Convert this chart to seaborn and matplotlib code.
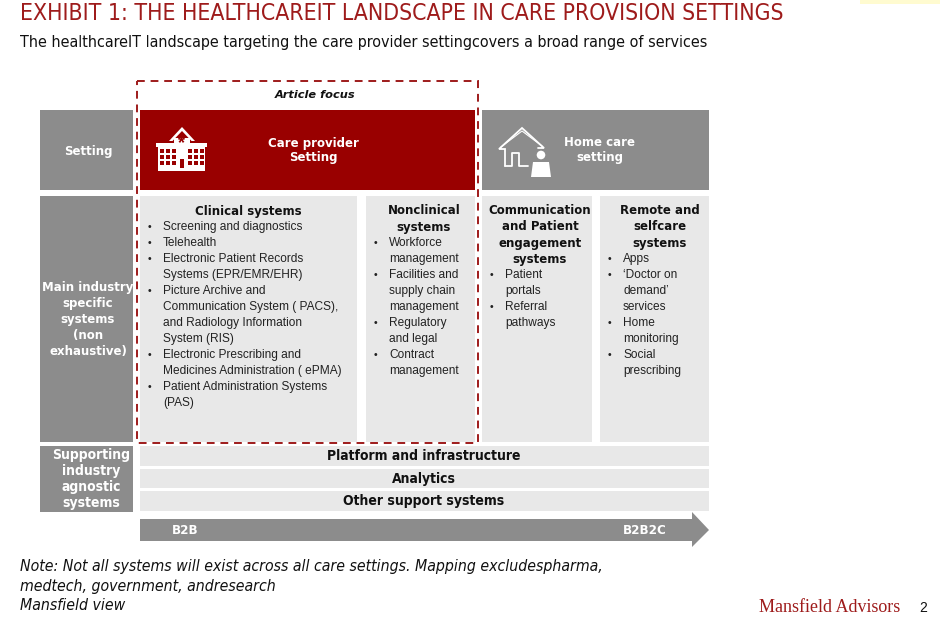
import matplotlib
matplotlib.use("Agg")
import matplotlib.pyplot as plt
import seaborn as sns
from matplotlib.patches import Rectangle, Polygon

sns.set_theme(style="white")
plt.rcParams["font.family"] = ["Liberation Sans", "DejaVu Sans"]

# ---- data -------------------------------------------------------------
title = "EXHIBIT 1: THE HEALTHCAREIT LANDSCAPE IN CARE PROVISION SETTINGS"
subtitle = ("The healthcareIT landscape targeting the care provider setting"
            "covers a broad range of services")
focus_label = "Article focus"
row_labels = ["Setting",
              "Main industry\nspecific\nsystems\n(non\nexhaustive)",
              "Supporting\nindustry\nagnostic\nsystems"]
settings = ["Care provider\nSetting", "Home care\nsetting"]
column_titles = ["Clinical systems",
                 "Nonclinical\nsystems",
                 "Communication\nand Patient\nengagement\nsystems",
                 "Remote and\nselfcare\nsystems"]
column_bullets = [
    ["Screening and diagnostics", "Telehealth",
     "Electronic Patient Records\nSystems (EPR/EMR/EHR)",
     "Picture Archive and\nCommunication System ( PACS),\nand Radiology Information\nSystem (RIS)",
     "Electronic Prescribing and\nMedicines Administration ( ePMA)",
     "Patient Administration Systems\n(PAS)"],
    ["Workforce\nmanagement", "Facilities and\nsupply chain\nmanagement",
     "Regulatory\nand legal", "Contract\nmanagement"],
    ["Patient\nportals", "Referral\npathways"],
    ["Apps", "\u2018Doctor on\ndemand\u2019\nservices", "Home\nmonitoring",
     "Social\nprescribing"],
]
support_layers = ["Platform and infrastructure", "Analytics", "Other support systems"]
arrow_labels = ["B2B", "B2B2C"]
note_lines = ["Note: Not all systems will exist across all care settings. Mapping excludespharma,",
              "medtech, government, andresearch",
              "Mansfield view"]
brand = "Mansfield Advisors"
page = "2"

# ---- style ------------------------------------------------------------
RED = "#990000"
TITLE_RED = "#9E1B1B"
GREY = "#8C8C8C"
LIGHT = "#E8E8E8"
COND = dict(family="DejaVu Sans", fontstretch="condensed")
HEAD = dict(family="DejaVu Sans", fontweight="bold")

fig = plt.figure(figsize=(9.4, 6.26), dpi=100)
ax = fig.add_axes([0, 0, 1, 1])
ax.set_xlim(0, 940)
ax.set_ylim(626, 0)
ax.axis("off")


def box(x0, y0, x1, y1, color, **kw):
    ax.add_patch(Rectangle((x0, y0), x1 - x0, y1 - y0, fc=color, ec="none", **kw))


def lines(x, y0, text, step=16, **kw):
    out = []
    for i, ln in enumerate(text.split("\n")):
        out.append(ax.text(x, y0 + i * step, ln, va="center", **kw))
    return out


# title and subtitle
ax.text(20, 14, title, fontsize=16.5, color=TITLE_RED, va="center", **COND)
ax.text(20, 43, subtitle, fontsize=11.5, color="#111111", va="center", **COND)
ax.add_patch(Rectangle((860, 0), 80, 4, fc="#FFFBD0", ec="none"))

# row label boxes
row_spans = [(110, 190), (196, 442), (446, 512)]
for (y0, y1) in row_spans:
    box(40, y0, 133, y1, GREY)
lines(88, 151, row_labels[0], color="white", fontsize=8.5, ha="center", **HEAD)
lines(88, 287, row_labels[1], color="white", fontsize=8.5, ha="center", **HEAD)
lines(91, 455, row_labels[2], color="white", fontsize=10, fontweight="bold",
      ha="center", **COND)

# setting row
box(140, 110, 475, 190, RED)
box(482, 110, 709, 190, GREY)
lines(313, 143, settings[0], step=15, color="white", fontsize=8.5, ha="center", **HEAD)
lines(600, 143, settings[1], step=15, color="white", fontsize=8.5, ha="center", **HEAD)

# hospital icon
box(156, 143, 207, 146.5, "white")
box(158, 146, 205, 171, "white")
ax.add_patch(Polygon([(169, 141), (182, 127), (195, 141)], closed=True,
                     fc="white", ec="none"))
ax.add_patch(Polygon([(172.5, 141), (182, 131), (191.5, 141)], closed=True,
                     fc=RED, ec="none"))
box(174, 138, 190, 146, "white")
ax.text(182, 144, "*", color=RED, fontsize=13, fontweight="bold",
        ha="center", va="center")
for wx in [160, 166, 172, 188, 194, 200]:
    for wy in [149, 155, 161]:
        box(wx, wy, wx + 3.5, wy + 4, RED)
box(179.5, 159, 184, 168, RED)

# house icon
ax.plot([505, 505, 499, 522, 544, 538], [166, 149, 149, 128, 148, 148],
        color="white", lw=1.3, solid_joinstyle="miter")
ax.plot([501, 522, 542], [147, 131, 146], color="white", lw=0.8)
ax.plot([505, 512, 512, 519, 519, 528], [166, 166, 153, 153, 166, 166],
        color="white", lw=1.3)
ax.add_patch(plt.Circle((541, 155), 4.3, fc="white", ec="none"))
ax.add_patch(Polygon([(531, 177), (533, 162), (549, 162), (551, 177)],
                     closed=True, fc="white", ec="none"))

# systems row
col_spans = [(140, 357), (366, 475), (482, 592), (600, 709)]
title_centers = [248, 424, 540, 660]
line_h = 16
for (x0, x1), ttl, cx, bullets in zip(col_spans, column_titles, title_centers,
                                      column_bullets):
    box(x0, 196, x1, 442, LIGHT)
    n_title = ttl.count("\n") + 1
    lines(cx, 211, ttl, fontsize=8.5, ha="center", color="#111111", **HEAD)
    y = 211 + n_title * line_h
    for b in bullets:
        ax.text(x0 + 8, y, "\u2022", fontsize=7.5, va="center", color="#222222")
        for ln in b.split("\n"):
            ax.text(x0 + 23, y, ln, fontsize=8.6, va="center", color="#222222")
            y += line_h

# supporting layers
layer_spans = [(446, 466), (469, 488), (491, 511)]
for (y0, y1), lab in zip(layer_spans, support_layers):
    box(140, y0, 709, y1, LIGHT)
    ax.text(424, (y0 + y1) / 2, lab, fontsize=10, fontweight="bold",
            ha="center", va="center", color="#111111", **COND)

# B2B -> B2B2C arrow
ax.add_patch(Polygon([(140, 519), (692, 519), (692, 512), (709, 530), (692, 547),
                      (692, 541), (140, 541)], closed=True, fc=GREY, ec="none"))
ax.text(185, 530, arrow_labels[0], color="white", fontsize=9.5, fontweight="bold",
        ha="center", va="center", **COND)
ax.text(645, 530, arrow_labels[1], color="white", fontsize=9.5, fontweight="bold",
        ha="center", va="center", **COND)

# article focus frame
ax.add_patch(Rectangle((137, 81), 341, 362, fill=False, ec=TITLE_RED, lw=1.4,
                       ls=(0, (4, 3))))
ax.text(315, 95, focus_label, fontsize=8.2, style="italic", ha="center",
        va="center", color="#111111", **HEAD)

# notes and footer
for i, ln in enumerate(note_lines):
    ax.text(20, 566 + i * 20, ln, fontsize=11.3, style="italic",
            va="center", color="#111111", **COND)
ax.text(900, 608, brand, fontsize=13, color=TITLE_RED,
        family=["Liberation Serif", "DejaVu Serif"], ha="right", va="center")
ax.text(923, 608, page, fontsize=10, color="#111111", ha="center", va="center")

fig.savefig("out.png", dpi=100)
